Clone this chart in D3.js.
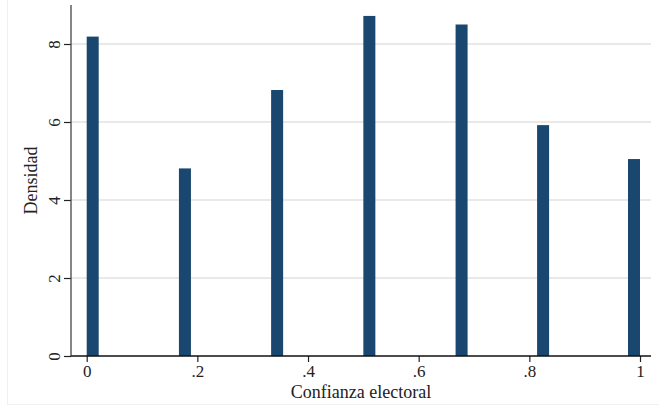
<!DOCTYPE html>
<html>
<head>
<meta charset="utf-8">
<script src="https://cdn.jsdelivr.net/npm/d3@7"></script>
<style>
  html, body { margin: 0; padding: 0; background: #fff; }
  svg { display: block; }
  text { font-family: "Liberation Serif", "DejaVu Serif", serif; fill: #222; }
</style>
</head>
<body>
<svg id="chart" width="659" height="406"></svg>
<script>
// Histogram of electoral confidence: bin start, bin width and density per bin
const binStarts = [0, 0.1667, 0.3333, 0.5, 0.6667, 0.814, 0.9783];
const binWidth = 0.0217;
const densities = [8.19, 4.81, 6.82, 8.72, 8.50, 5.92, 5.05];

const xTicks = [0, 0.2, 0.4, 0.6, 0.8, 1];
const xTickLabels = ["0", ".2", ".4", ".6", ".8", "1"];
const yTicks = [0, 2, 4, 6, 8];
const yTickLabels = ["0", "2", "4", "6", "8"];

const xTitle = "Confianza electoral";
const yTitle = "Densidad";

const svg = d3.select("#chart");
const W = 659, H = 406;

// Plot region
const plot = { left: 71, right: 651, top: 5, bottom: 356 };

const x = d3.scaleLinear().domain([0, 1]).range([86.7, 640]);
const y = d3.scaleLinear().domain([0, 9]).range([plot.bottom, plot.top]);

// Faint outer frame of the graph region
svg.append("rect")
  .attr("x", 7.5).attr("y", -1)
  .attr("width", W - 7).attr("height", H - 0.5)
  .attr("fill", "none").attr("stroke", "#f0f0f0").attr("stroke-width", 1);

// Horizontal grid lines
svg.append("g")
  .selectAll("line")
  .data(yTicks.filter(d => d > 0))
  .join("line")
  .attr("x1", plot.left).attr("x2", plot.right)
  .attr("y1", d => y(d)).attr("y2", d => y(d))
  .attr("stroke", "#e9e9e9").attr("stroke-width", 2);

// Bars
svg.append("g")
  .selectAll("rect")
  .data(binStarts.map((s, i) => ({ s, v: densities[i] })))
  .join("rect")
  .attr("x", d => x(d.s))
  .attr("width", d => x(d.s + binWidth) - x(d.s))
  .attr("y", d => y(d.v))
  .attr("height", d => y(0) - y(d.v))
  .attr("fill", "#1a476f");

// Y axis
const yAxis = d3.axisLeft(y)
  .tickValues(yTicks)
  .tickFormat((d, i) => yTickLabels[i])
  .tickSize(7)
  .tickPadding(4);

const gy = svg.append("g")
  .attr("transform", `translate(${plot.left},0)`)
  .call(yAxis);
gy.select(".domain").remove();
gy.selectAll(".tick line").attr("stroke", "#222").attr("stroke-width", 1.2);
gy.selectAll(".tick text")
  .attr("font-size", 17)
  .attr("text-anchor", "middle")
  .attr("x", 0).attr("dy", 0)
  .attr("transform", "translate(-16,0) rotate(-90) translate(0,5)");

svg.append("line")
  .attr("x1", plot.left).attr("x2", plot.left)
  .attr("y1", plot.top).attr("y2", plot.bottom)
  .attr("stroke", "#444").attr("stroke-width", 1.3);

// X axis
const xAxis = d3.axisBottom(x)
  .tickValues(xTicks)
  .tickFormat((d, i) => xTickLabels[i])
  .tickSize(6)
  .tickPadding(3);

const gx = svg.append("g")
  .attr("transform", `translate(0,${plot.bottom})`)
  .call(xAxis);
gx.select(".domain").remove();
gx.selectAll(".tick line").attr("stroke", "#222").attr("stroke-width", 1.2);
gx.selectAll(".tick text").attr("font-size", 17);

svg.append("line")
  .attr("x1", plot.left).attr("x2", plot.right)
  .attr("y1", plot.bottom).attr("y2", plot.bottom)
  .attr("stroke", "#111").attr("stroke-width", 1.3);

// Axis titles
svg.append("text")
  .attr("x", 361).attr("y", 398)
  .attr("text-anchor", "middle")
  .attr("font-size", 18)
  .text(xTitle);

svg.append("text")
  .attr("transform", `translate(37,${(plot.top + plot.bottom) / 2}) rotate(-90)`)
  .attr("text-anchor", "middle")
  .attr("font-size", 18)
  .text(yTitle);
</script>
</body>
</html>
